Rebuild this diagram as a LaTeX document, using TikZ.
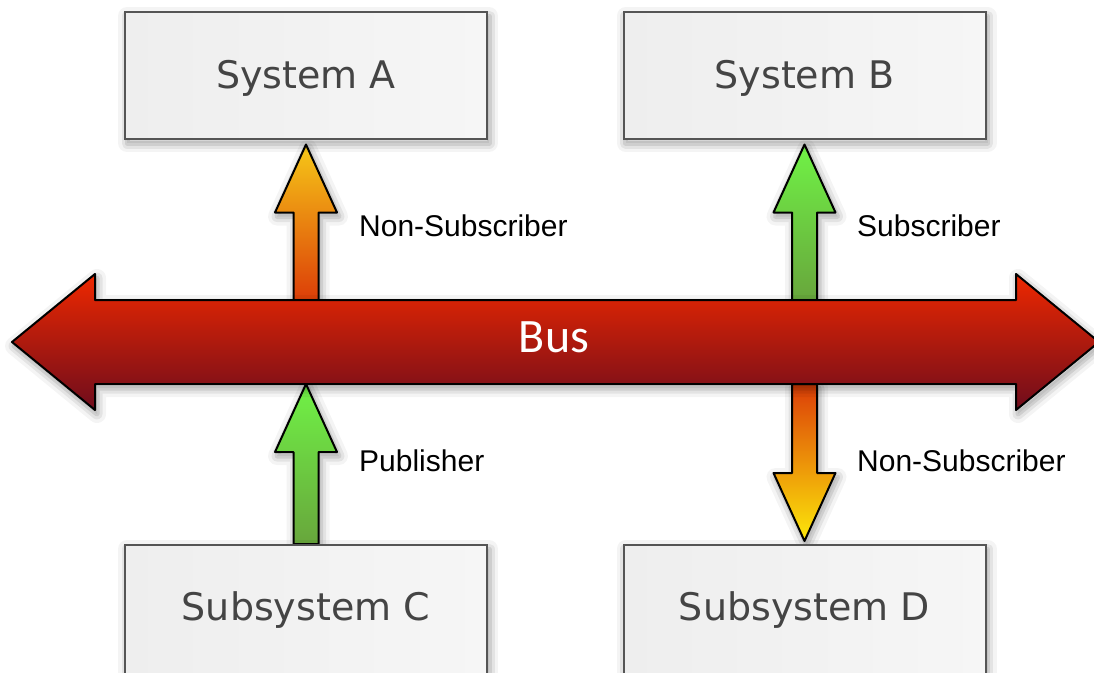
\documentclass[tikz,border=0pt]{standalone}
\usepackage{fontspec}
\setmainfont{DejaVu Sans}
\newfontfamily\labelfont{Liberation Sans}
\newfontfamily\busfont{Carlito}
\usetikzlibrary{calc}

\definecolor{boxline}{RGB}{85,85,85}
\definecolor{boxtxt}{RGB}{68,68,68}
\definecolor{boxleft}{RGB}{238,238,238}
\definecolor{boxright}{RGB}{246,246,246}
\definecolor{busTop}{RGB}{238,40,0}
\definecolor{busMid}{RGB}{185,24,16}
\definecolor{busBot}{RGB}{110,12,28}
\definecolor{ylwTip}{RGB}{246,200,24}
\definecolor{ylwTipD}{RGB}{252,232,10}
\definecolor{redBase}{RGB}{220,62,8}
\definecolor{grnTip}{RGB}{112,242,70}
\definecolor{grnBase}{RGB}{104,166,60}

\pgfdeclarelayer{arrows}
\pgfsetlayers{arrows,main}

% fat block arrow from tail #2 to tip #3, drawn with style #1
\newcommand\fatarrow[3]{%
  \coordinate (fa-hb) at ($(#3)!68pt!(#2)$);
  \path[#1]
    ($(#2)!12.5pt!90:(#3)$) --
    ($(fa-hb)!12.5pt!-90:(#2)$) --
    ($(fa-hb)!31pt!-90:(#2)$) --
    (#3) --
    ($(fa-hb)!31pt!90:(#2)$) --
    ($(fa-hb)!12.5pt!90:(#2)$) --
    ($(#2)!12.5pt!-90:(#3)$) -- cycle;
}

\begin{document}
\begin{tikzpicture}[x=1pt,y=-1pt,
  % soft drop shadow built from stacked translucent strokes
  softshadow/.style={
    preaction={draw=black,draw opacity=0.045,fill=black,fill opacity=0.06,
      line width=18pt,line join=round,transform canvas={shift={(2pt,-4pt)}}},
    preaction={draw=black,draw opacity=0.065,line width=11pt,line join=round,
      transform canvas={shift={(2pt,-4pt)}}},
    preaction={draw=black,draw opacity=0.09,line width=5pt,line join=round,
      transform canvas={shift={(2pt,-4pt)}}}},
  box/.style={softshadow,draw=boxline,line width=2pt,left color=boxleft,right color=boxright,
      minimum width=362pt,inner sep=0pt},
  boxtext/.style={text=boxtxt,font=\fontsize{38}{40}\selectfont,inner sep=0pt},
  tag/.style={font=\labelfont\fontsize{30}{32}\selectfont,anchor=west,inner sep=0pt},
  fat/.style={softshadow,draw=black,line width=2pt,line join=round},
  orangeup/.style={fat,top color=ylwTip,bottom color=redBase},
  orangedown/.style={fat,top color=redBase,bottom color=ylwTipD},
  greenup/.style={fat,top color=grnTip,bottom color=grnBase},
  busarrow/.style={softshadow,draw=black,line width=2pt,line join=round,
      top color=busTop,middle color=busMid,bottom color=busBot},
]
\useasboundingbox (0,0) rectangle (1094,672);
\begin{pgfonlayer}{arrows}
\fill[white] (0,0) rectangle (1094,672);
\end{pgfonlayer}
\clip (0,0) rectangle (1094,672);

% the bus: a double-headed block arrow
\coordinate (busN) at (553,300);
\coordinate (busS) at (553,384);
\path[busarrow] (12,342) -- (95,274) -- (95,300) -- (1016,300) -- (1016,274)
  -- (1099,342) -- (1016,410) -- (1016,384) -- (95,384) -- (95,410) -- cycle;
\node[text=white,font=\busfont\fontsize{48}{50}\selectfont,inner sep=0pt] (bus) at (554,337) {Bus};

% systems (top) and subsystems (bottom, running off the lower edge)
\path (306,75.5) node[box,minimum height=127pt] (A) {};
\path (804.5,75.5) node[box,minimum height=127pt] (B) {};
\path (306,622.5) node[box,minimum height=155pt] (C) {};
\path (804.5,622.5) node[box,minimum height=155pt] (D) {};

\node[boxtext] (tA) at (306,78) {System A};
\node[boxtext] (tB) at (804.5,78) {System B};
\node[boxtext] (tC) at (306,610) {Subsystem C};
\node[boxtext] (tD) at (804.5,610) {Subsystem D};

% connector ends
\coordinate (aTail) at (A.south |- busN);
\coordinate (aTip)  at ($(A.south)+(0,4.5)$);
\coordinate (bTail) at (B.south |- busN);
\coordinate (bTip)  at ($(B.south)+(0,4.5)$);
\coordinate (cTail) at (C.north);
\coordinate (cTip)  at (C.north |- busS);
\coordinate (dTail) at (D.north |- busS);
\coordinate (dTip)  at ($(D.north)+(0,-3)$);

% block arrows sit underneath the bus and the boxes
\begin{pgfonlayer}{arrows}
\fatarrow{orangeup}{aTail}{aTip}
\fatarrow{greenup}{bTail}{bTip}
\fatarrow{greenup}{cTail}{cTip}
\fatarrow{orangedown}{dTail}{dTip}
\end{pgfonlayer}

\node[tag] (lA) at (359,226) {Non-Subscriber};
\node[tag] (lB) at (857,226) {Subscriber};
\node[tag] (lC) at (359,461) {Publisher};
\node[tag] (lD) at (857,461) {Non-Subscriber};
\end{tikzpicture}
\end{document}
